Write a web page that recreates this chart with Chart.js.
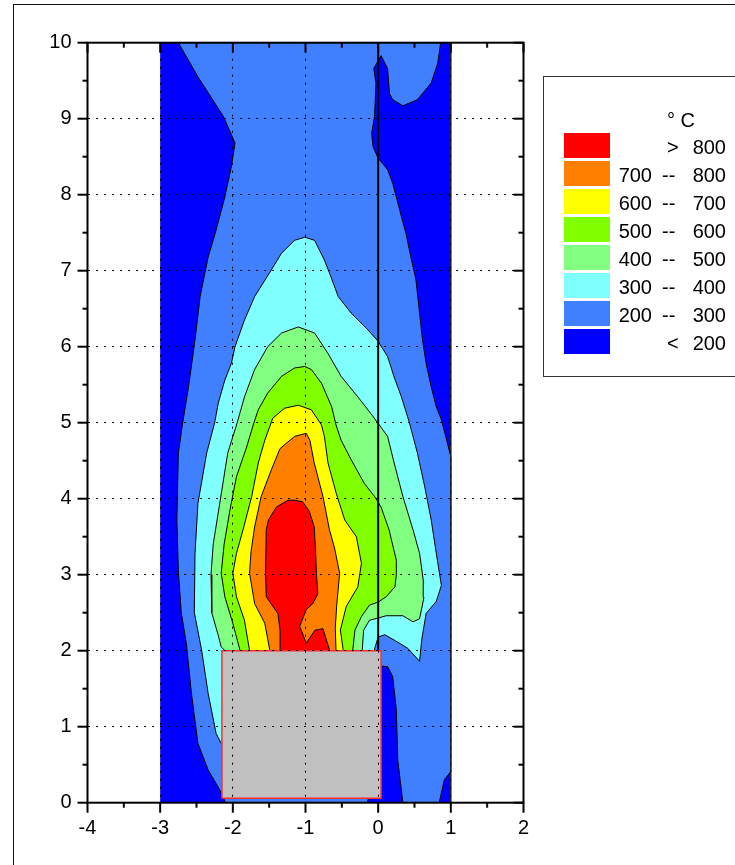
<!DOCTYPE html>
<html>
<head>
<meta charset="utf-8">
<script src="https://cdn.jsdelivr.net/npm/chart.js@4.4.1/dist/chart.umd.min.js"></script>
<style>
  html, body { margin: 0; padding: 0; background: #fff; overflow: hidden; }
  #wrap { position: relative; width: 735px; height: 865px; }
  #frame { position: absolute; left: 12.5px; top: 4px; width: 800px; height: 900px; border-left: 1.5px solid #111; border-top: 1.5px solid #111; }
  #legend { position: absolute; left: 543px; top: 76px; width: 220px; height: 301px; border: 1px solid #333; box-sizing: border-box; }
  .sw { position: absolute; left: 564px; width: 46px; height: 25px; }
  .tx { position: absolute; font: 20px "Liberation Sans", Arial, sans-serif; line-height: 25px; height: 25px; color: #000; white-space: pre; }
  .r { text-align: right; }
  canvas { position: absolute; left: 0; top: 0; }
</style>
</head>
<body>
<div id="wrap">
  <div id="frame"></div>
  <div id="legend"></div>
  <canvas id="chart" width="735" height="865"></canvas>
</div>
<script>
// legend
const bandColors = ['#ff0000', '#ff8000', '#ffff00', '#80ff00', '#80ff80', '#80ffff', '#4080ff', '#0000ff'];
const legendLow = ['', '700', '600', '500', '400', '300', '200', ''];
const legendSign = ['>', '--', '--', '--', '--', '--', '--', '<'];
const legendHigh = ['800', '800', '700', '600', '500', '400', '300', '200'];
const legendUnit = '° C';

// contour polygons [x, y]
const below200 = [[-3, 0], [1, 0], [1, 10], [-3, 10]];
const band200 = [
  [-2.75, 10], [-2.48, 9.55], [-2.13, 9.03], [-1.97, 8.68], [-2.02, 8.37], [-2.11, 7.97], [-2.24, 7.5],
  [-2.34, 7.18], [-2.45, 6.66], [-2.52, 6.09], [-2.61, 5.47], [-2.69, 5.0], [-2.75, 4.6], [-2.77, 3.72],
  [-2.75, 3.06], [-2.71, 2.5], [-2.64, 2.1], [-2.57, 1.44], [-2.48, 0.78], [-2.34, 0.43], [-2.18, 0.17],
  [-2.1, 0], [-0.15, 0], [0, 0.5], [0.02, 1.8], [0.13, 1.79], [0.2, 1.66], [0.25, 1.22], [0.27, 0.56],
  [0.34, 0], [0.84, 0], [0.91, 0.3], [1, 0.41], [1, 4.55], [0.93, 4.82], [0.87, 5.04], [0.8, 5.21],
  [0.73, 5.47], [0.66, 5.78], [0.61, 6.09], [0.57, 6.44], [0.52, 6.88], [0.45, 7.18], [0.38, 7.5],
  [0.32, 7.71], [0.25, 7.97], [0.2, 8.15], [0.13, 8.33], [0, 8.48], [-0.07, 8.63], [-0.09, 8.81],
  [-0.05, 9.03], [-0.03, 9.47], [-0.06, 9.66], [0.04, 9.83], [0.13, 9.66], [0.155, 9.33], [0.2, 9.25],
  [0.34, 9.17], [0.54, 9.25], [0.73, 9.47], [0.82, 9.73], [0.86, 10]
];
const band300 = [
  [-1.01, 7.44], [-1.15, 7.4], [-1.33, 7.23], [-1.47, 7.01], [-1.7, 6.66], [-1.84, 6.35], [-1.97, 6.0],
  [-2.02, 5.78], [-2.11, 5.56], [-2.2, 5.26], [-2.25, 5.0], [-2.36, 4.6], [-2.48, 3.94], [-2.52, 3.28],
  [-2.53, 2.5], [-2.43, 2.01], [-2.34, 1.44], [-2.23, 0.91], [-2.16, 0.78], [-2.0, 0.7], [-0.05, 1.9],
  [-0.05, 2.02], [0, 2.18], [0.09, 2.21], [0.22, 2.14], [0.41, 2.03], [0.57, 1.86], [0.6, 2.15],
  [0.66, 2.49], [0.8, 2.65], [0.87, 2.86], [0.8, 3.28], [0.73, 3.72], [0.64, 4.16], [0.54, 4.6],
  [0.43, 5.0], [0.32, 5.34], [0.22, 5.6], [0.13, 5.87], [0, 6.07], [-0.14, 6.22], [-0.37, 6.44],
  [-0.55, 6.66], [-0.65, 6.92], [-0.74, 7.14], [-0.875, 7.4]
];
const band400 = [
  [-1.1, 6.26], [-1.33, 6.18], [-1.52, 6.0], [-1.7, 5.7], [-1.84, 5.34], [-1.94, 5.0], [-2.07, 4.6],
  [-2.18, 3.94], [-2.27, 3.4], [-2.3, 3.0], [-2.29, 2.5], [-2.2, 2.2], [-2.16, 2.05], [-2.0, 1.9],
  [-0.22, 1.9], [-0.22, 2.0], [-0.2, 2.27], [-0.12, 2.4], [0, 2.43], [0.11, 2.46], [0.34, 2.46],
  [0.48, 2.38], [0.57, 2.42], [0.63, 2.7], [0.62, 2.93], [0.57, 3.28], [0.48, 3.59], [0.34, 4.03],
  [0.22, 4.47], [0.13, 4.82], [0, 4.99], [-0.1, 5.12], [-0.28, 5.34], [-0.51, 5.61], [-0.69, 5.91],
  [-0.875, 6.18]
];
const band500 = [
  [-1.01, 5.74], [-1.15, 5.72], [-1.33, 5.61], [-1.52, 5.39], [-1.65, 5.17], [-1.71, 5.0], [-1.81, 4.68],
  [-1.95, 4.29], [-2.04, 3.85], [-2.12, 3.4], [-2.16, 3.02], [-2.11, 2.71], [-2.0, 2.36], [-1.9, 2.0],
  [-1.9, 1.9], [-0.35, 1.9], [-0.35, 2.0], [-0.32, 2.27], [-0.23, 2.45], [-0.12, 2.6], [0, 2.64],
  [0.11, 2.71], [0.23, 2.84], [0.25, 3.0], [0.25, 3.19], [0.15, 3.59], [0.04, 3.89], [-0.05, 4.03],
  [-0.19, 4.2], [-0.37, 4.51], [-0.51, 4.77], [-0.58, 4.97], [-0.64, 5.21], [-0.78, 5.52], [-0.92, 5.7]
];
const band600 = [
  [-1.1, 5.23], [-1.29, 5.19], [-1.45, 5.06], [-1.56, 4.77], [-1.65, 4.47], [-1.74, 4.03], [-1.86, 3.59],
  [-1.95, 3.28], [-2.0, 3.02], [-1.95, 2.71], [-1.84, 2.4], [-1.77, 2.0], [-1.77, 1.9], [-0.48, 1.9],
  [-0.48, 2.0], [-0.52, 2.27], [-0.44, 2.58], [-0.28, 2.84], [-0.23, 3.15], [-0.3, 3.5], [-0.46, 3.72],
  [-0.58, 4.08], [-0.69, 4.47], [-0.74, 4.82], [-0.78, 4.97], [-0.92, 5.17]
];
const band700 = [
  [-0.99, 4.86], [-1.15, 4.82], [-1.35, 4.66], [-1.47, 4.38], [-1.61, 4.03], [-1.7, 3.63], [-1.75, 3.3],
  [-1.77, 3.02], [-1.7, 2.62], [-1.56, 2.36], [-1.49, 2.0], [-1.49, 1.9], [-0.58, 1.9], [-0.58, 2.0],
  [-0.59, 2.3], [-0.57, 2.6], [-0.53, 3.02], [-0.6, 3.35], [-0.67, 3.59], [-0.76, 4.03], [-0.88, 4.47],
  [-0.94, 4.77]
];
const band800 = [
  [-1.15, 3.98], [-1.04, 3.96], [-0.95, 3.84], [-0.88, 3.63], [-0.86, 3.28], [-0.85, 3.02], [-0.83, 2.75],
  [-0.9, 2.62], [-0.99, 2.54], [-1.08, 2.32], [-0.99, 2.1], [-0.87, 2.27], [-0.76, 2.29], [-0.67, 2.01],
  [-0.67, 1.9], [-1.35, 1.9], [-1.35, 2.01], [-1.35, 2.27], [-1.38, 2.49], [-1.54, 2.71], [-1.55, 3.02],
  [-1.54, 3.59], [-1.51, 3.72], [-1.4, 3.89], [-1.24, 3.98]
];
const block = [[-2.15, 0.06], [0.04, 0.06], [0.04, 2.0], [-2.15, 2.0]];
const wall0 = [[0, 2], [0, 10]];
const wall1 = [[1, 0], [1, 10]];

// legend DOM
const wrap = document.getElementById('wrap');
function addText(txt, left, top, width, right) {
  const el = document.createElement('div');
  el.className = 'tx' + (right ? ' r' : '');
  el.style.left = left + 'px';
  el.style.top = top + 'px';
  if (width) el.style.width = width + 'px';
  el.textContent = txt;
  wrap.appendChild(el);
}
addText(legendUnit, 667, 108);
bandColors.forEach((c, i) => {
  const top = 133 + 28 * i;
  const sw = document.createElement('div');
  sw.className = 'sw';
  sw.style.top = top + 'px';
  sw.style.background = c;
  wrap.appendChild(sw);
  if (legendLow[i]) addText(legendLow[i], 602, top + 2, 50, true);
  addText(legendSign[i], legendSign[i] == '--' ? 662 : 667, top + 2);
  addText(legendHigh[i], 676, top + 2, 50, true);
});

// chart
const toPts = arr => arr.map(([x, y]) => ({x, y}));

function area(pts, color, border, width) {
  return {
    data: toPts(pts.concat([pts[0]])),
    backgroundColor: color,
    borderColor: border,
    borderWidth: width,
    fill: 'shape',
    pointRadius: 0,
    tension: 0
  };
}
function wall(pts, color, width) {
  return { data: toPts(pts), borderColor: color, borderWidth: width, fill: false, pointRadius: 0 };
}

const tickMarks = {
  id: 'tickMarks',
  afterDraw(chart) {
    const {ctx, chartArea: a, scales: {x, y}} = chart;
    ctx.save();
    ctx.strokeStyle = '#000';
    ctx.lineWidth = 2;
    ctx.strokeRect(a.left, a.top, a.right - a.left, a.bottom - a.top);
    const mark = (x1, y1, x2, y2) => { ctx.beginPath(); ctx.moveTo(x1, y1); ctx.lineTo(x2, y2); ctx.stroke(); };
    const xs = x.ticks.map(t => t.value);
    const ys = y.ticks.map(t => t.value);
    xs.forEach((v, i) => {
      const p = x.getPixelForValue(v);
      mark(p, a.bottom, p, a.bottom + 10);
      mark(p, a.top, p, a.top + 10);
      if (i < xs.length - 1) {
        const m = x.getPixelForValue((v + xs[i + 1]) / 2);
        mark(m, a.bottom, m, a.bottom + 5);
        mark(m, a.top, m, a.top + 5);
      }
    });
    ys.forEach((v, i) => {
      const p = y.getPixelForValue(v);
      mark(a.left - 10, p, a.left, p);
      mark(a.right - 10, p, a.right, p);
      if (i < ys.length - 1) {
        const m = y.getPixelForValue((v + ys[i + 1]) / 2);
        mark(a.left - 5, m, a.left, m);
        mark(a.right - 5, m, a.right, m);
      }
    });
    ctx.restore();
  }
};

const tickFont = { family: '"Liberation Sans", Arial, sans-serif', size: 20 };

new Chart(document.getElementById('chart'), {
  type: 'line',
  data: {
    datasets: [
      area(block, '#c0c0c0', '#ff2a2a', 1.5),
      wall(wall0, '#000', 2),
      wall(wall1, '#222', 1.5),
      area(band800, bandColors[0], '#000', 1),
      area(band700, bandColors[1], '#000', 1),
      area(band600, bandColors[2], '#000', 1),
      area(band500, bandColors[3], '#000', 1),
      area(band400, bandColors[4], '#000', 1),
      area(band300, bandColors[5], '#000', 1),
      area(band200, bandColors[6], '#000', 1),
      area(below200, bandColors[7], '#000', 0)
    ]
  },
  options: {
    responsive: false,
    animation: false,
    events: [],
    layout: { padding: { top: 42.7, right: 211.5, left: 0, bottom: 0 } },
    plugins: { legend: { display: false }, tooltip: { enabled: false } },
    scales: {
      x: {
        type: 'linear', min: -4, max: 2,
        ticks: { stepSize: 1, color: '#000', font: tickFont, padding: 14, maxRotation: 0 },
        grid: { color: '#000', lineWidth: 1, drawTicks: false, z: 1 },
        border: { display: false, dash: [2, 6] },
        afterFit: s => { s.height = 62.3; }
      },
      y: {
        type: 'linear', min: 0, max: 10,
        ticks: { stepSize: 1, color: '#000', font: tickFont, padding: 16 },
        grid: { color: '#000', lineWidth: 1, drawTicks: false, z: 1 },
        border: { display: false, dash: [2, 6] },
        afterFit: s => { s.width = 87.5; }
      }
    }
  },
  plugins: [tickMarks]
});
</script>
</body>
</html>
